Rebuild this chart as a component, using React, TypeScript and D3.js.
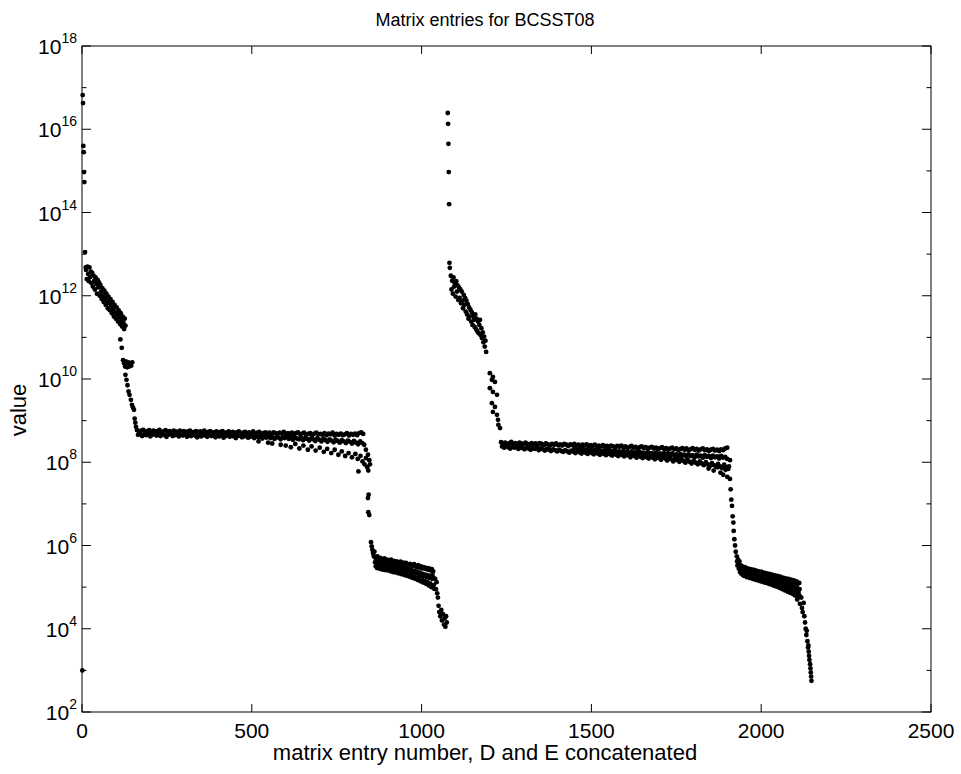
import React from 'react';
import * as d3 from 'd3';

// ---- data (y values are log10 of the matrix entry) ----
const xTickValues = [0, 500, 1000, 1500, 2000, 2500];
const yMajorExps = [2, 4, 6, 8, 10, 12, 14, 16, 18];
const yMinorExps = [3, 5, 7, 9, 11, 13, 15, 17];

// [index, log10 value]
const spikeD: [number, number][] = [[1, 3.0], [2, 16.82], [3, 16.63], [4, 15.6], [5, 15.45], [6, 14.97], [7, 14.73], [9, 13.05], [11, 12.68]];

const cluster1Start = 12, cluster1Step = 2;
const cluster1 = [12.62, 12.40, 12.70, 12.52, 12.35, 12.68, 12.45, 12.58, 12.30, 12.55,
  12.22, 12.48, 12.36, 12.15, 12.44, 12.28, 12.05, 12.38, 12.20, 12.32,
  12.00, 12.26, 12.10, 11.92, 12.18, 12.02, 11.85, 12.12, 11.95, 11.78,
  12.05, 11.88, 11.70, 11.98, 11.82, 11.65, 11.92, 11.75, 11.58, 11.85,
  11.68, 11.50, 11.78, 11.60, 11.45, 11.72, 11.55, 11.38, 11.65, 11.48,
  11.32, 11.58, 11.42, 11.26, 11.50, 11.35, 11.20, 11.45, 11.28];

const drop1: [number, number][] = [[113, 10.95], [117, 10.75], [121, 10.45], [124, 10.38], [127, 10.30], [129, 10.42], [131, 10.35], [133, 10.28], [136, 10.40], [139, 10.30], [142, 10.38], [145, 10.32], [148, 10.40],
  [128, 10.10], [131, 9.98], [134, 9.85], [137, 9.70], [140, 9.62], [144, 9.50], [147, 9.38], [150, 9.32], [153, 9.26], [155, 9.05], [157, 8.95], [159, 8.85]];

const plateau1TopStart = 162, plateau1Step = 6;
const plateau1Top = [8.77, 8.74, 8.76, 8.78, 8.73, 8.75, 8.77, 8.72, 8.76, 8.74,
  8.75, 8.78, 8.72, 8.74, 8.77, 8.73, 8.75, 8.71, 8.76, 8.74,
  8.72, 8.76, 8.73, 8.75, 8.70, 8.74, 8.76, 8.72, 8.73, 8.75,
  8.71, 8.74, 8.72, 8.76, 8.70, 8.73, 8.75, 8.71, 8.72, 8.74,
  8.70, 8.73, 8.75, 8.69, 8.72, 8.74, 8.71, 8.73, 8.69, 8.72,
  8.74, 8.70, 8.71, 8.73, 8.68, 8.72, 8.70, 8.74, 8.69, 8.71,
  8.73, 8.68, 8.70, 8.72, 8.69, 8.71, 8.67, 8.72, 8.70, 8.68,
  8.71, 8.69, 8.73, 8.67, 8.70, 8.68, 8.71, 8.66, 8.70, 8.72,
  8.67, 8.69, 8.71, 8.66, 8.68, 8.70, 8.65, 8.69, 8.71, 8.67,
  8.68, 8.66, 8.70, 8.65, 8.69, 8.67, 8.71, 8.64, 8.68, 8.66,
  8.69, 8.65, 8.67, 8.70, 8.64, 8.68, 8.66, 8.69, 8.65, 8.70, 8.72, 8.68];
const plateau1MidStart = 165;
const plateau1Mid = [8.66, 8.69, 8.63, 8.67, 8.65, 8.70, 8.62, 8.66, 8.68, 8.64,
  8.67, 8.63, 8.69, 8.65, 8.61, 8.66, 8.68, 8.63, 8.65, 8.67,
  8.62, 8.66, 8.64, 8.68, 8.61, 8.65, 8.63, 8.67, 8.64, 8.60,
  8.65, 8.62, 8.66, 8.64, 8.61, 8.67, 8.63, 8.65, 8.60, 8.64,
  8.62, 8.66, 8.59, 8.63, 8.65, 8.61, 8.64, 8.62, 8.58, 8.63,
  8.65, 8.60, 8.62, 8.64, 8.59, 8.61, 8.63, 8.58, 8.62, 8.60,
  8.63, 8.57, 8.61, 8.59, 8.62, 8.58, 8.60, 8.56, 8.61, 8.59,
  8.55, 8.60, 8.58, 8.62, 8.56, 8.59, 8.54, 8.60, 8.57, 8.55,
  8.59, 8.53, 8.58, 8.56, 8.52, 8.57, 8.55, 8.51, 8.58, 8.54,
  8.50, 8.56, 8.53, 8.49, 8.55, 8.52, 8.48, 8.54, 8.51, 8.47,
  8.53, 8.50, 8.46, 8.52, 8.49, 8.45, 8.51, 8.47, 8.43, 8.50, 8.46, 8.42];
const plateau1Low: [number, number][] = [[520, 8.50], [548, 8.47], [560, 8.45], [585, 8.42], [600, 8.40], [615, 8.36], [628, 8.44], [640, 8.33], [652, 8.40], [665, 8.30], [676, 8.38], [688, 8.28], [700, 8.35], [712, 8.25], [722, 8.32], [734, 8.22], [744, 8.30], [755, 8.18], [765, 8.26], [775, 8.15], [785, 8.22], [795, 8.12], [805, 8.20], [812, 8.08], [820, 8.15], [826, 8.02], [832, 7.95], [836, 8.10], [840, 7.88]];

const drop2: [number, number][] = [[836, 8.30], [842, 8.18], [846, 8.05], [848, 7.95], [814, 7.78], [843, 7.80], [844, 7.22], [842, 7.14], [843, 6.80], [846, 6.73],
  [851, 6.08], [853, 5.98], [855, 5.90], [857, 5.82], [859, 5.75], [861, 5.85]];

const cluster2TopStart = 862, cluster2Step = 4;
const cluster2Top = [5.72, 5.68, 5.74, 5.66, 5.70, 5.67, 5.64, 5.69, 5.62, 5.66,
  5.64, 5.60, 5.66, 5.61, 5.63, 5.58, 5.62, 5.60, 5.56, 5.61,
  5.57, 5.59, 5.54, 5.58, 5.55, 5.52, 5.56, 5.53, 5.50, 5.55,
  5.51, 5.48, 5.53, 5.47, 5.50, 5.45, 5.48, 5.44, 5.46, 5.42,
  5.45, 5.40, 5.43, 5.38];
const cluster2MidStart = 863;
const cluster2Mid = [5.60, 5.57, 5.62, 5.55, 5.58, 5.54, 5.57, 5.52, 5.56, 5.53,
  5.50, 5.54, 5.49, 5.52, 5.47, 5.51, 5.46, 5.49, 5.45, 5.48,
  5.43, 5.47, 5.41, 5.45, 5.40, 5.43, 5.38, 5.41, 5.36, 5.39,
  5.34, 5.37, 5.31, 5.35, 5.29, 5.32, 5.27, 5.30, 5.24, 5.28,
  5.22, 5.25, 5.20, 5.22];
const cluster2LowStart = 865;
const cluster2Low = [5.50, 5.46, 5.48, 5.44, 5.47, 5.42, 5.45, 5.41, 5.44, 5.40,
  5.42, 5.38, 5.41, 5.36, 5.39, 5.35, 5.37, 5.33, 5.36, 5.31,
  5.34, 5.29, 5.32, 5.27, 5.30, 5.25, 5.28, 5.22, 5.26, 5.20,
  5.23, 5.17, 5.21, 5.14, 5.18, 5.11, 5.15, 5.08, 5.12, 5.04,
  5.09, 5.00, 5.05, 4.96];
const tail2: [number, number][] = [[1032, 5.30], [1036, 5.05], [1040, 5.20], [1042, 4.95], [1044, 5.12], [1046, 4.85], [1048, 4.75], [1050, 4.55], [1052, 4.40], [1055, 4.30], [1058, 4.45], [1060, 4.20], [1063, 4.35], [1066, 4.10], [1068, 4.25], [1070, 4.05], [1072, 4.30], [1074, 4.15]];

const spikeE: [number, number][] = [[1077, 16.39], [1078, 16.13], [1079, 15.65], [1080, 14.97], [1081, 14.2], [1082, 12.79], [1083, 12.67]];

const cluster4Start = 1086, cluster4Step = 2;
const cluster4 = [12.48, 12.15, 12.36, 12.05, 12.44, 12.22, 12.30, 11.98, 12.35, 12.10,
  12.25, 11.90, 12.20, 11.95, 12.15, 11.82, 12.10, 11.88, 11.70, 12.02,
  11.78, 11.95, 11.62, 11.88, 11.55, 11.80, 11.45, 11.72, 11.50, 11.66,
  11.38, 11.60, 11.30, 11.52, 11.42, 11.25, 11.55, 11.20, 11.45, 11.15,
  11.38, 11.10, 11.30, 11.42, 11.05, 11.22, 10.98, 11.12, 10.88, 11.02,
  10.78, 10.92, 10.65];

const drop3: [number, number][] = [[1201, 10.14], [1210, 10.05], [1207, 9.98], [1216, 9.93], [1201, 9.78], [1210, 9.69], [1222, 9.62], [1207, 9.42], [1216, 9.33], [1210, 9.21], [1222, 9.14], [1225, 9.02], [1226, 8.90], [1231, 8.82]];

const plateau2TopStart = 1234, plateau2Step = 6;
const plateau2Top = [8.48, 8.45, 8.47, 8.43, 8.46, 8.49, 8.44, 8.46, 8.42, 8.47,
  8.45, 8.43, 8.47, 8.44, 8.41, 8.46, 8.43, 8.45, 8.42, 8.46,
  8.44, 8.41, 8.45, 8.43, 8.40, 8.44, 8.42, 8.45, 8.41, 8.43,
  8.40, 8.44, 8.42, 8.39, 8.43, 8.41, 8.44, 8.40, 8.42, 8.38,
  8.42, 8.40, 8.43, 8.38, 8.41, 8.39, 8.42, 8.37, 8.40, 8.38,
  8.41, 8.37, 8.39, 8.36, 8.40, 8.38, 8.35, 8.39, 8.37, 8.40,
  8.36, 8.38, 8.34, 8.37, 8.39, 8.35, 8.37, 8.33, 8.36, 8.38,
  8.34, 8.36, 8.32, 8.35, 8.37, 8.33, 8.35, 8.31, 8.34, 8.36,
  8.32, 8.34, 8.30, 8.33, 8.35, 8.31, 8.33, 8.29, 8.32, 8.34,
  8.30, 8.33, 8.29, 8.31, 8.34, 8.30, 8.32, 8.28, 8.31, 8.33,
  8.29, 8.31, 8.27, 8.30, 8.32, 8.28, 8.30, 8.27, 8.31, 8.29, 8.33, 8.35];
const plateau2MidStart = 1237;
const plateau2Mid = [8.38, 8.35, 8.40, 8.36, 8.33, 8.38, 8.35, 8.37, 8.32, 8.36,
  8.34, 8.31, 8.35, 8.33, 8.30, 8.34, 8.32, 8.35, 8.29, 8.33,
  8.31, 8.28, 8.32, 8.30, 8.27, 8.31, 8.29, 8.26, 8.30, 8.27,
  8.25, 8.29, 8.26, 8.23, 8.28, 8.25, 8.22, 8.27, 8.24, 8.21,
  8.26, 8.23, 8.20, 8.25, 8.22, 8.19, 8.24, 8.21, 8.18, 8.23,
  8.20, 8.17, 8.22, 8.19, 8.16, 8.21, 8.18, 8.15, 8.20, 8.17,
  8.14, 8.19, 8.16, 8.12, 8.18, 8.15, 8.11, 8.17, 8.13, 8.10,
  8.16, 8.12, 8.09, 8.15, 8.11, 8.07, 8.14, 8.10, 8.06, 8.12,
  8.09, 8.04, 8.11, 8.07, 8.02, 8.10, 8.05, 8.01, 8.08, 8.03,
  7.99, 8.06, 8.01, 7.97, 8.04, 7.99, 7.95, 8.02, 7.97, 7.93,
  8.00, 7.95, 7.91, 7.98, 7.93, 7.89, 7.96, 7.90, 7.86, 7.94, 7.88, 7.84];
const plateau2InnerStart = 1450;
const plateau2Inner = [8.33, 8.29, 8.31, 8.27, 8.32, 8.28, 8.30, 8.26, 8.31, 8.27,
  8.29, 8.25, 8.30, 8.26, 8.28, 8.24, 8.29, 8.25, 8.27, 8.23,
  8.28, 8.24, 8.26, 8.22, 8.27, 8.23, 8.25, 8.21, 8.26, 8.22,
  8.24, 8.20, 8.25, 8.21, 8.23, 8.19, 8.24, 8.20, 8.22, 8.18,
  8.23, 8.19, 8.21, 8.16, 8.22, 8.18, 8.20, 8.15, 8.21, 8.17,
  8.19, 8.14, 8.20, 8.16, 8.18, 8.13, 8.19, 8.15, 8.17, 8.12,
  8.18, 8.14, 8.16, 8.11, 8.17, 8.13, 8.15, 8.10, 8.16, 8.12,
  8.14, 8.09, 8.15, 8.11, 8.13, 8.08];
const plateau2Tail: [number, number][] = [[1845, 7.85], [1860, 7.80], [1872, 7.88], [1880, 7.75], [1888, 7.70], [1895, 7.82], [1900, 7.65], [1905, 7.90], [1908, 8.05]];

const drop4: [number, number][] = [[1908, 7.60], [1910, 7.35], [1912, 7.10], [1914, 6.95], [1916, 6.70], [1918, 6.55], [1919, 6.35], [1921, 6.15], [1923, 6.00], [1925, 5.85]];

const cluster3TopStart = 1928, cluster3Step = 4;
const cluster3Top = [5.74, 5.66, 5.62, 5.52, 5.50, 5.46, 5.48, 5.42, 5.45, 5.40,
  5.43, 5.38, 5.42, 5.36, 5.40, 5.35, 5.38, 5.33, 5.37, 5.31,
  5.35, 5.30, 5.33, 5.28, 5.32, 5.26, 5.30, 5.25, 5.28, 5.23,
  5.27, 5.21, 5.25, 5.19, 5.23, 5.18, 5.21, 5.16, 5.20, 5.14,
  5.18, 5.12, 5.16, 5.10, 5.14, 5.08, 5.10];
const cluster3MidStart = 1929;
const cluster3Mid = [5.62, 5.55, 5.46, 5.42, 5.39, 5.36, 5.38, 5.33, 5.35, 5.31,
  5.33, 5.29, 5.32, 5.27, 5.30, 5.25, 5.28, 5.23, 5.27, 5.21,
  5.25, 5.19, 5.23, 5.17, 5.21, 5.15, 5.19, 5.13, 5.17, 5.11,
  5.15, 5.09, 5.13, 5.07, 5.11, 5.05, 5.09, 5.03, 5.07, 5.00,
  5.04, 4.97, 5.01, 4.94, 4.98, 4.90, 4.95];
const cluster3LowStart = 1930;
const cluster3Low = [5.52, 5.44, 5.36, 5.32, 5.29, 5.27, 5.28, 5.24, 5.26, 5.22,
  5.23, 5.20, 5.22, 5.18, 5.20, 5.16, 5.18, 5.14, 5.16, 5.12,
  5.14, 5.10, 5.12, 5.08, 5.10, 5.06, 5.08, 5.03, 5.05, 5.01,
  5.03, 4.98, 5.00, 4.95, 4.97, 4.92, 4.94, 4.89, 4.91, 4.86,
  4.88, 4.83, 4.85, 4.80, 4.82, 4.76, 4.78];
const tail3: [number, number][] = [[2100, 4.80], [2106, 4.70], [2110, 4.85], [2114, 4.60], [2118, 4.75], [2120, 4.50], [2122, 4.40], [2125, 4.62], [2127, 4.30], [2129, 4.15], [2131, 4.00], [2133, 3.85], [2134, 3.95], [2136, 3.70], [2138, 3.55], [2139, 3.60], [2140, 3.45], [2141, 3.35], [2142, 3.25], [2144, 3.15], [2145, 3.05], [2146, 2.95], [2147, 2.85], [2148, 2.75]];

// ---- helpers ----
const stepped = (start: number, step: number, vals: number[]): [number, number][] =>
  vals.map((v, i) => [start + i * step, v]);

const allPoints: [number, number][] = [
  ...spikeD,
  ...stepped(cluster1Start, cluster1Step, cluster1),
  ...drop1,
  ...stepped(plateau1TopStart, plateau1Step, plateau1Top),
  ...stepped(plateau1MidStart, plateau1Step, plateau1Mid),
  ...plateau1Low,
  ...drop2,
  ...stepped(cluster2TopStart, cluster2Step, cluster2Top),
  ...stepped(cluster2MidStart, cluster2Step, cluster2Mid),
  ...stepped(cluster2LowStart, cluster2Step, cluster2Low),
  ...tail2,
  ...spikeE,
  ...stepped(cluster4Start, cluster4Step, cluster4),
  ...drop3,
  ...stepped(plateau2TopStart, plateau2Step, plateau2Top),
  ...stepped(plateau2MidStart, plateau2Step, plateau2Mid),
  ...stepped(plateau2InnerStart, plateau2Step, plateau2Inner),
  ...plateau2Tail,
  ...drop4,
  ...stepped(cluster3TopStart, cluster3Step, cluster3Top),
  ...stepped(cluster3MidStart, cluster3Step, cluster3Mid),
  ...stepped(cluster3LowStart, cluster3Step, cluster3Low),
  ...tail3,
];

const FONT = '"Liberation Sans", Arial, Helvetica, sans-serif';

export default function App() {
  const L = 82, R = 931, T = 46, B = 712;
  const x = d3.scaleLinear().domain([0, 2500]).range([L, R]);
  const y = d3.scaleLog().domain([1e2, 1e18]).range([B, T]);
  const labelCx = 485, labelCy = 410;

  return (
    <svg width={961} height={774} style={{ position: 'absolute', left: 0, top: 0, background: '#fff' }}
      fontFamily={FONT}>
      <rect x={0} y={0} width={961} height={774} fill="#fff" />
      {/* points */}
      <g fill="#000">
        {allPoints.map(([i, e], k) => (
          <circle key={k} cx={x(i)} cy={y(Math.pow(10, e))} r={2.4} />
        ))}
      </g>
      {/* box */}
      <rect x={L} y={T} width={R - L} height={B - T} fill="none" stroke="#000" strokeWidth={1} />
      {/* x ticks */}
      {xTickValues.map((t) => (
        <g key={'xt' + t}>
          <line x1={x(t)} x2={x(t)} y1={B} y2={B - 8} stroke="#000" />
          <line x1={x(t)} x2={x(t)} y1={T} y2={T + 8} stroke="#000" />
          <text x={x(t)} y={738} textAnchor="middle" fontSize={21}>{t}</text>
        </g>
      ))}
      {/* y ticks */}
      {yMajorExps.map((e) => {
        const yy = y(Math.pow(10, e));
        return (
          <g key={'ym' + e}>
            <line x1={L} x2={L + 9} y1={yy} y2={yy} stroke="#000" />
            <line x1={R} x2={R - 9} y1={yy} y2={yy} stroke="#000" />
            <text x={77} y={yy + 8} textAnchor="end" fontSize={21}>
              10<tspan fontSize={14} dy={-11}>{e}</tspan>
            </text>
          </g>
        );
      })}
      {yMinorExps.map((e) => {
        const yy = y(Math.pow(10, e));
        return (
          <g key={'yn' + e}>
            <line x1={L} x2={L + 4.5} y1={yy} y2={yy} stroke="#000" />
            <line x1={R} x2={R - 4.5} y1={yy} y2={yy} stroke="#000" />
          </g>
        );
      })}
      {/* labels */}
      <text x={labelCx} y={26} textAnchor="middle" fontSize={18}>Matrix entries for BCSST08</text>
      <text x={labelCx} y={760} textAnchor="middle" fontSize={22}>matrix entry number, D and E concatenated</text>
      <text transform={`translate(26,${labelCy}) rotate(-90)`} textAnchor="middle" fontSize={22}>value</text>
    </svg>
  );
}
